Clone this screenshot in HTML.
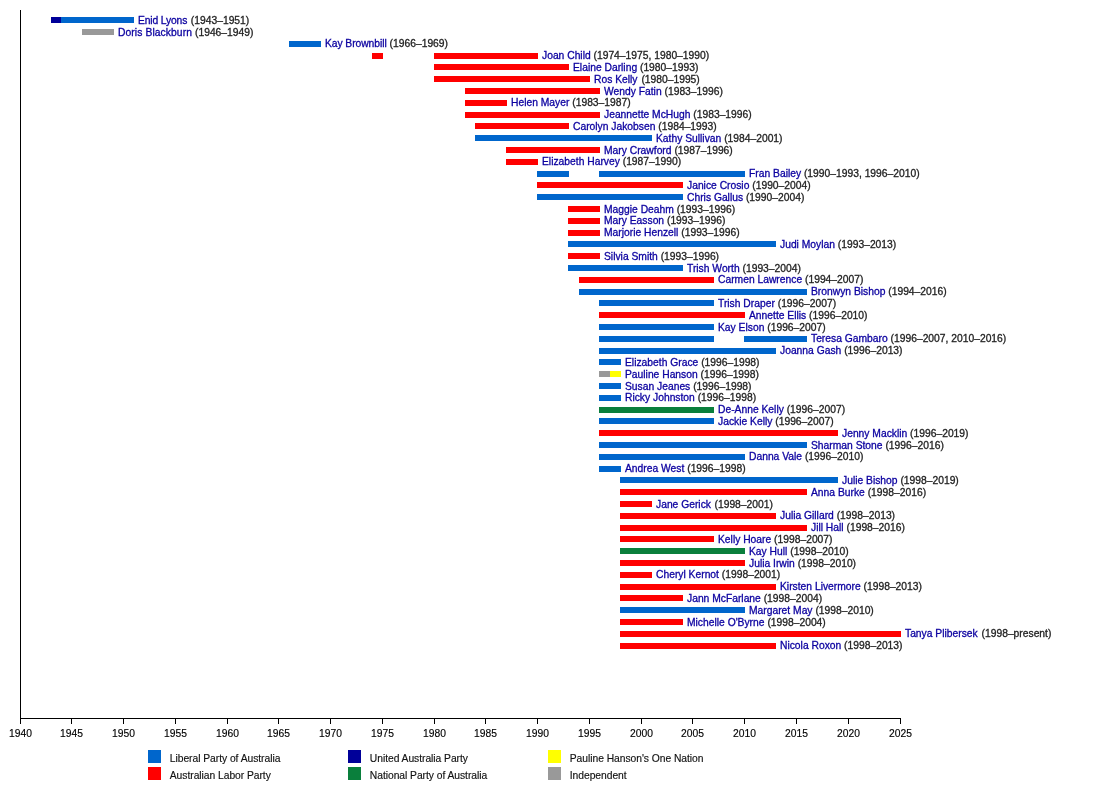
<!DOCTYPE html>
<html lang="en"><head><meta charset="utf-8"><title>Women in the Australian House of Representatives timeline</title>
<style>
html,body{margin:0;padding:0;background:#fff}
body{width:1100px;height:798px;position:relative;overflow:hidden;font-family:"Liberation Sans",sans-serif;font-size:10.30px;line-height:12px;color:#222222}
.t{position:absolute;white-space:nowrap;height:12px}
.t a{color:#0c00a0;text-decoration:none;letter-spacing:0}
svg{position:absolute;left:0;top:0}
#c{position:absolute;left:0;top:0;width:1100px;height:798px;will-change:transform}
.t,.yl,.lt{-webkit-text-stroke:0.3px currentColor}
.lt,.yl{-webkit-text-stroke-width:0.15px}
.lib{fill:#0066cc}
.alp{fill:#ff0000}
.uap{fill:#000099}
.nat{fill:#0a7f3c}
.onp{fill:#ffff00}
.ind{fill:#999999}
.yl{position:absolute;width:40px;text-align:center;white-space:nowrap;height:12px;color:#000}
.lt{letter-spacing:-0.04px;position:absolute;white-space:nowrap;height:12px;color:#111}
</style></head><body><div id="c">
<svg width="1100" height="798" viewBox="0 0 1100 798">
<rect class="uap" x="51" y="17" width="11" height="6"/>
<rect class="lib" x="61" y="17" width="73" height="6"/>
<rect class="ind" x="82" y="29" width="32" height="6"/>
<rect class="lib" x="289" y="41" width="32" height="6"/>
<rect class="alp" x="372" y="53" width="11" height="6"/>
<rect class="alp" x="434" y="53" width="104" height="6"/>
<rect class="alp" x="434" y="64" width="135" height="6"/>
<rect class="alp" x="434" y="76" width="156" height="6"/>
<rect class="alp" x="465" y="88" width="135" height="6"/>
<rect class="alp" x="465" y="100" width="42" height="6"/>
<rect class="alp" x="465" y="112" width="135" height="6"/>
<rect class="alp" x="475" y="123" width="94" height="6"/>
<rect class="lib" x="475" y="135" width="177" height="6"/>
<rect class="alp" x="506" y="147" width="94" height="6"/>
<rect class="alp" x="506" y="159" width="32" height="6"/>
<rect class="lib" x="537" y="171" width="32" height="6"/>
<rect class="lib" x="599" y="171" width="146" height="6"/>
<rect class="alp" x="537" y="182" width="146" height="6"/>
<rect class="lib" x="537" y="194" width="146" height="6"/>
<rect class="alp" x="568" y="206" width="32" height="6"/>
<rect class="alp" x="568" y="218" width="32" height="6"/>
<rect class="alp" x="568" y="230" width="32" height="6"/>
<rect class="lib" x="568" y="241" width="208" height="6"/>
<rect class="alp" x="568" y="253" width="32" height="6"/>
<rect class="lib" x="568" y="265" width="115" height="6"/>
<rect class="alp" x="579" y="277" width="135" height="6"/>
<rect class="lib" x="579" y="289" width="228" height="6"/>
<rect class="lib" x="599" y="300" width="115" height="6"/>
<rect class="alp" x="599" y="312" width="146" height="6"/>
<rect class="lib" x="599" y="324" width="115" height="6"/>
<rect class="lib" x="599" y="336" width="115" height="6"/>
<rect class="lib" x="744" y="336" width="63" height="6"/>
<rect class="lib" x="599" y="348" width="177" height="6"/>
<rect class="lib" x="599" y="359" width="22" height="6"/>
<rect class="ind" x="599" y="371" width="12" height="6"/>
<rect class="onp" x="610" y="371" width="11" height="6"/>
<rect class="lib" x="599" y="383" width="22" height="6"/>
<rect class="lib" x="599" y="395" width="22" height="6"/>
<rect class="nat" x="599" y="407" width="115" height="6"/>
<rect class="lib" x="599" y="418" width="115" height="6"/>
<rect class="alp" x="599" y="430" width="239" height="6"/>
<rect class="lib" x="599" y="442" width="208" height="6"/>
<rect class="lib" x="599" y="454" width="146" height="6"/>
<rect class="lib" x="599" y="466" width="22" height="6"/>
<rect class="lib" x="620" y="477" width="218" height="6"/>
<rect class="alp" x="620" y="489" width="187" height="6"/>
<rect class="alp" x="620" y="501" width="32" height="6"/>
<rect class="alp" x="620" y="513" width="156" height="6"/>
<rect class="alp" x="620" y="525" width="187" height="6"/>
<rect class="alp" x="620" y="536" width="94" height="6"/>
<rect class="nat" x="620" y="548" width="125" height="6"/>
<rect class="alp" x="620" y="560" width="125" height="6"/>
<rect class="alp" x="620" y="572" width="32" height="6"/>
<rect class="alp" x="620" y="584" width="156" height="6"/>
<rect class="alp" x="620" y="595" width="63" height="6"/>
<rect class="lib" x="620" y="607" width="125" height="6"/>
<rect class="alp" x="620" y="619" width="63" height="6"/>
<rect class="alp" x="620" y="631" width="281" height="6"/>
<rect class="alp" x="620" y="643" width="156" height="6"/>
<rect x="20" y="10" width="1" height="709" fill="#000"/>
<rect x="20" y="718" width="881" height="1" fill="#000"/>
<rect x="20" y="718" width="1" height="6" fill="#000"/>
<rect x="71" y="718" width="1" height="6" fill="#000"/>
<rect x="123" y="718" width="1" height="6" fill="#000"/>
<rect x="175" y="718" width="1" height="6" fill="#000"/>
<rect x="227" y="718" width="1" height="6" fill="#000"/>
<rect x="278" y="718" width="1" height="6" fill="#000"/>
<rect x="330" y="718" width="1" height="6" fill="#000"/>
<rect x="382" y="718" width="1" height="6" fill="#000"/>
<rect x="434" y="718" width="1" height="6" fill="#000"/>
<rect x="485" y="718" width="1" height="6" fill="#000"/>
<rect x="537" y="718" width="1" height="6" fill="#000"/>
<rect x="589" y="718" width="1" height="6" fill="#000"/>
<rect x="641" y="718" width="1" height="6" fill="#000"/>
<rect x="692" y="718" width="1" height="6" fill="#000"/>
<rect x="744" y="718" width="1" height="6" fill="#000"/>
<rect x="796" y="718" width="1" height="6" fill="#000"/>
<rect x="848" y="718" width="1" height="6" fill="#000"/>
<rect x="900" y="718" width="1" height="6" fill="#000"/>
<rect class="lib" x="148" y="750" width="13" height="13"/>
<rect class="alp" x="148" y="767" width="13" height="13"/>
<rect class="uap" x="348" y="750" width="13" height="13"/>
<rect class="nat" x="348" y="767" width="13" height="13"/>
<rect class="onp" x="548" y="750" width="13" height="13"/>
<rect class="ind" x="548" y="767" width="13" height="13"/>
</svg>
<div class="t" style="left:138px;top:14.6px"><a style="letter-spacing:-0.140px">Enid Lyons</a></div>
<div class="t" style="left:190.85px;top:14.6px">(1943–1951)</div>
<div class="t" style="left:118px;top:26.6px"><a style="letter-spacing:0.090px">Doris Blackburn</a></div>
<div class="t" style="left:195.01px;top:26.6px">(1946–1949)</div>
<div class="t" style="left:325px;top:37.6px"><a style="letter-spacing:-0.058px">Kay Brownbill</a></div>
<div class="t" style="left:389.61px;top:37.6px">(1966–1969)</div>
<div class="t" style="left:542px;top:49.6px"><a>Joan Child</a></div>
<div class="t" style="left:593.53px;top:49.6px">(1974–1975, 1980–1990)</div>
<div class="t" style="left:573px;top:61.6px"><a>Elaine Darling</a></div>
<div class="t" style="left:639.98px;top:61.6px">(1980–1993)</div>
<div class="t" style="left:594px;top:73.6px"><a>Ros Kelly</a></div>
<div class="t" style="left:641.38px;top:73.6px">(1980–1995)</div>
<div class="t" style="left:604px;top:85.6px"><a>Wendy Fatin</a></div>
<div class="t" style="left:664.50px;top:85.6px">(1983–1996)</div>
<div class="t" style="left:511px;top:96.6px"><a>Helen Mayer</a></div>
<div class="t" style="left:572.25px;top:96.6px">(1983–1987)</div>
<div class="t" style="left:604px;top:108.6px"><a>Jeannette McHugh</a></div>
<div class="t" style="left:693.31px;top:108.6px">(1983–1996)</div>
<div class="t" style="left:573px;top:120.6px"><a>Carolyn Jakobsen</a></div>
<div class="t" style="left:658.30px;top:120.6px">(1984–1993)</div>
<div class="t" style="left:656px;top:132.6px"><a>Kathy Sullivan</a></div>
<div class="t" style="left:724.14px;top:132.6px">(1984–2001)</div>
<div class="t" style="left:604px;top:144.6px"><a>Mary Crawford</a></div>
<div class="t" style="left:674.39px;top:144.6px">(1987–1996)</div>
<div class="t" style="left:542px;top:155.6px"><a>Elizabeth Harvey</a></div>
<div class="t" style="left:622.72px;top:155.6px">(1987–1990)</div>
<div class="t" style="left:749px;top:167.6px"><a>Fran Bailey</a></div>
<div class="t" style="left:803.95px;top:167.6px">(1990–1993, 1996–2010)</div>
<div class="t" style="left:687px;top:179.6px"><a>Janice Crosio</a></div>
<div class="t" style="left:752.27px;top:179.6px">(1990–2004)</div>
<div class="t" style="left:687px;top:191.6px"><a>Chris Gallus</a></div>
<div class="t" style="left:745.95px;top:191.6px">(1990–2004)</div>
<div class="t" style="left:604px;top:203.6px"><a>Maggie Deahm</a></div>
<div class="t" style="left:676.70px;top:203.6px">(1993–1996)</div>
<div class="t" style="left:604px;top:214.6px"><a>Mary Easson</a></div>
<div class="t" style="left:666.97px;top:214.6px">(1993–1996)</div>
<div class="t" style="left:604px;top:226.6px"><a>Marjorie Henzell</a></div>
<div class="t" style="left:681.28px;top:226.6px">(1993–1996)</div>
<div class="t" style="left:780px;top:238.6px"><a>Judi Moylan</a></div>
<div class="t" style="left:837.83px;top:238.6px">(1993–2013)</div>
<div class="t" style="left:604px;top:250.6px"><a>Silvia Smith</a></div>
<div class="t" style="left:660.67px;top:250.6px">(1993–1996)</div>
<div class="t" style="left:687px;top:262.6px"><a>Trish Worth</a></div>
<div class="t" style="left:742.52px;top:262.6px">(1993–2004)</div>
<div class="t" style="left:718px;top:273.6px"><a>Carmen Lawrence</a></div>
<div class="t" style="left:805.02px;top:273.6px">(1994–2007)</div>
<div class="t" style="left:811px;top:285.6px"><a>Bronwyn Bishop</a></div>
<div class="t" style="left:888.28px;top:285.6px">(1994–2016)</div>
<div class="t" style="left:718px;top:297.6px"><a>Trish Draper</a></div>
<div class="t" style="left:777.72px;top:297.6px">(1996–2007)</div>
<div class="t" style="left:749px;top:309.6px"><a>Annette Ellis</a></div>
<div class="t" style="left:809.12px;top:309.6px">(1996–2010)</div>
<div class="t" style="left:718px;top:321.6px"><a>Kay Elson</a></div>
<div class="t" style="left:767.25px;top:321.6px">(1996–2007)</div>
<div class="t" style="left:811px;top:332.6px"><a>Teresa Gambaro</a></div>
<div class="t" style="left:890.58px;top:332.6px">(1996–2007, 2010–2016)</div>
<div class="t" style="left:780px;top:344.6px"><a>Joanna Gash</a></div>
<div class="t" style="left:844.14px;top:344.6px">(1996–2013)</div>
<div class="t" style="left:625px;top:356.6px"><a>Elizabeth Grace</a></div>
<div class="t" style="left:701.14px;top:356.6px">(1996–1998)</div>
<div class="t" style="left:625px;top:368.6px"><a>Pauline Hanson</a></div>
<div class="t" style="left:700.58px;top:368.6px">(1996–1998)</div>
<div class="t" style="left:625px;top:380.6px"><a>Susan Jeanes</a></div>
<div class="t" style="left:693.14px;top:380.6px">(1996–1998)</div>
<div class="t" style="left:625px;top:391.6px"><a>Ricky Johnston</a></div>
<div class="t" style="left:697.70px;top:391.6px">(1996–1998)</div>
<div class="t" style="left:718px;top:403.6px"><a>De-Anne Kelly</a></div>
<div class="t" style="left:786.70px;top:403.6px">(1996–2007)</div>
<div class="t" style="left:718px;top:415.6px"><a>Jackie Kelly</a></div>
<div class="t" style="left:775.25px;top:415.6px">(1996–2007)</div>
<div class="t" style="left:842px;top:427.6px"><a>Jenny Macklin</a></div>
<div class="t" style="left:910.12px;top:427.6px">(1996–2019)</div>
<div class="t" style="left:811px;top:439.6px"><a>Sharman Stone</a></div>
<div class="t" style="left:885.44px;top:439.6px">(1996–2016)</div>
<div class="t" style="left:749px;top:450.6px"><a>Danna Vale</a></div>
<div class="t" style="left:804.94px;top:450.6px">(1996–2010)</div>
<div class="t" style="left:625px;top:462.6px"><a>Andrea West</a></div>
<div class="t" style="left:687.22px;top:462.6px">(1996–1998)</div>
<div class="t" style="left:842px;top:474.6px"><a>Julie Bishop</a></div>
<div class="t" style="left:900.41px;top:474.6px">(1998–2019)</div>
<div class="t" style="left:811px;top:486.6px"><a>Anna Burke</a></div>
<div class="t" style="left:867.69px;top:486.6px">(1998–2016)</div>
<div class="t" style="left:656px;top:498.6px"><a>Jane Gerick</a></div>
<div class="t" style="left:714.53px;top:498.6px">(1998–2001)</div>
<div class="t" style="left:780px;top:509.6px"><a>Julia Gillard</a></div>
<div class="t" style="left:836.67px;top:509.6px">(1998–2013)</div>
<div class="t" style="left:811px;top:521.6px"><a>Jill Hall</a></div>
<div class="t" style="left:846.50px;top:521.6px">(1998–2016)</div>
<div class="t" style="left:718px;top:533.6px"><a>Kelly Hoare</a></div>
<div class="t" style="left:774.11px;top:533.6px">(1998–2007)</div>
<div class="t" style="left:749px;top:545.6px"><a>Kay Hull</a></div>
<div class="t" style="left:790.22px;top:545.6px">(1998–2010)</div>
<div class="t" style="left:749px;top:557.6px"><a>Julia Irwin</a></div>
<div class="t" style="left:797.66px;top:557.6px">(1998–2010)</div>
<div class="t" style="left:656px;top:568.6px"><a>Cheryl Kernot</a></div>
<div class="t" style="left:721.83px;top:568.6px">(1998–2001)</div>
<div class="t" style="left:780px;top:580.6px"><a>Kirsten Livermore</a></div>
<div class="t" style="left:863.56px;top:580.6px">(1998–2013)</div>
<div class="t" style="left:687px;top:592.6px"><a>Jann McFarlane</a></div>
<div class="t" style="left:763.70px;top:592.6px">(1998–2004)</div>
<div class="t" style="left:749px;top:604.6px"><a>Margaret May</a></div>
<div class="t" style="left:815.41px;top:604.6px">(1998–2010)</div>
<div class="t" style="left:687px;top:616.6px"><a>Michelle O'Byrne</a></div>
<div class="t" style="left:767.39px;top:616.6px">(1998–2004)</div>
<div class="t" style="left:905px;top:627.6px"><a>Tanya Plibersek</a></div>
<div class="t" style="left:981.56px;top:627.6px">(1998–present)</div>
<div class="t" style="left:780px;top:639.6px"><a>Nicola Roxon</a></div>
<div class="t" style="left:844.12px;top:639.6px">(1998–2013)</div>
<div class="yl" style="left:0.50px;top:727.6px">1940</div>
<div class="yl" style="left:51.50px;top:727.6px">1945</div>
<div class="yl" style="left:103.50px;top:727.6px">1950</div>
<div class="yl" style="left:155.50px;top:727.6px">1955</div>
<div class="yl" style="left:207.50px;top:727.6px">1960</div>
<div class="yl" style="left:258.50px;top:727.6px">1965</div>
<div class="yl" style="left:310.50px;top:727.6px">1970</div>
<div class="yl" style="left:362.50px;top:727.6px">1975</div>
<div class="yl" style="left:414.50px;top:727.6px">1980</div>
<div class="yl" style="left:465.50px;top:727.6px">1985</div>
<div class="yl" style="left:517.50px;top:727.6px">1990</div>
<div class="yl" style="left:569.50px;top:727.6px">1995</div>
<div class="yl" style="left:621.50px;top:727.6px">2000</div>
<div class="yl" style="left:672.50px;top:727.6px">2005</div>
<div class="yl" style="left:724.50px;top:727.6px">2010</div>
<div class="yl" style="left:776.50px;top:727.6px">2015</div>
<div class="yl" style="left:828.50px;top:727.6px">2020</div>
<div class="yl" style="left:880.50px;top:727.6px">2025</div>
<div class="lt" style="left:169.8px;top:752.6px">Liberal Party of Australia</div>
<div class="lt" style="left:169.8px;top:769.6px">Australian Labor Party</div>
<div class="lt" style="left:369.8px;top:752.6px">United Australia Party</div>
<div class="lt" style="left:369.8px;top:769.6px">National Party of Australia</div>
<div class="lt" style="left:569.8px;top:752.6px">Pauline Hanson's One Nation</div>
<div class="lt" style="left:569.8px;top:769.6px">Independent</div>
</div></body></html>
